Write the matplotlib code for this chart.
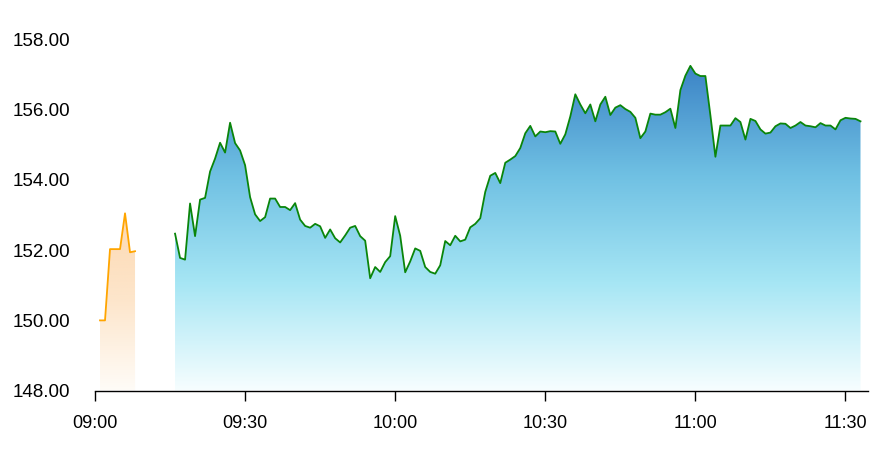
import numpy as np
import pandas as pd
import matplotlib
matplotlib.use('Agg')
import matplotlib.pyplot as plt
import matplotlib.dates as mdates
from matplotlib.colors import LinearSegmentedColormap

plt.rcParams['font.family'] = ['Liberation Sans', 'DejaVu Sans']

# pre-market prints (orange)
pre_prices = [150.00, 150.00, 152.03, 152.03, 152.03, 153.05, 151.94, 151.97]
pre_start = '2024-01-02 09:01'

# regular session prints (green), one per minute
prices = [
    152.47, 151.78, 151.73, 153.33, 152.40, 153.44, 153.49, 154.24, 154.61, 155.06,
    154.78, 155.63, 155.05, 154.84, 154.42, 153.51, 153.02, 152.83, 152.94, 153.47,
    153.47, 153.23, 153.23, 153.14, 153.34, 152.87, 152.69, 152.64, 152.75, 152.68,
    152.35, 152.59, 152.34, 152.22, 152.42, 152.64, 152.69, 152.40, 152.27, 151.20,
    151.52, 151.38, 151.66, 151.83, 152.97, 152.41, 151.37, 151.68, 152.05, 151.98,
    151.52, 151.38, 151.33, 151.57, 152.26, 152.14, 152.41, 152.25, 152.30, 152.65,
    152.75, 152.91, 153.66, 154.12, 154.20, 153.91, 154.49, 154.58, 154.68, 154.91,
    155.33, 155.54, 155.24, 155.38, 155.36, 155.39, 155.38, 155.03, 155.30, 155.81,
    156.44, 156.15, 155.90, 156.15, 155.67, 156.15, 156.37, 155.85, 156.06, 156.13,
    156.02, 155.94, 155.77, 155.19, 155.38, 155.89, 155.86, 155.86, 155.93, 156.03,
    155.48, 156.56, 156.97, 157.25, 157.03, 156.96, 156.96, 155.84, 154.66, 155.55,
    155.55, 155.55, 155.76, 155.65, 155.15, 155.74, 155.68, 155.44, 155.32, 155.35,
    155.53, 155.61, 155.60, 155.48, 155.55, 155.65, 155.55, 155.53, 155.50, 155.62,
    155.55, 155.55, 155.44, 155.70, 155.77, 155.75, 155.74, 155.67,
]
start = '2024-01-02 09:16'

y_ticks = [148, 150, 152, 154, 156, 158]
x_ticks = ['09:00', '09:30', '10:00', '10:30', '11:00', '11:30']

pre_times = pd.date_range(pre_start, periods=len(pre_prices), freq='min')
times = pd.date_range(start, periods=len(prices), freq='min')

blue_cmap = LinearSegmentedColormap.from_list(
    'blue', ['#f7feff', '#a6e6f4', '#6fc0e3', '#3c84c6'])
orange_cmap = LinearSegmentedColormap.from_list(
    'orange', ['#fffcf8', '#fde6cc', '#fdd9b2'])


def gradient_area(ax, x, y, line_color, cmap, base=148):
    xn = mdates.date2num(x)
    y = np.asarray(y)
    poly = ax.fill_between(xn, y, base, facecolor='none', edgecolor='none')
    grad = np.linspace(1, 0, 256).reshape(-1, 1)
    im = ax.imshow(grad, cmap=cmap, aspect='auto', origin='upper',
                   extent=[xn.min(), xn.max(), base, y.max()], zorder=2)
    im.set_clip_path(poly.get_paths()[0], transform=ax.transData)
    ax.plot(xn, y, color=line_color, lw=1.3, zorder=3)


fig = plt.figure(figsize=(8.92, 4.65), dpi=100)
ax = fig.add_axes([0.1065, 0.160, 0.8666, 0.755])

gradient_area(ax, pre_times, pre_prices, '#ffa500', orange_cmap)
gradient_area(ax, times, prices, '#0a850a', blue_cmap)

day = '2024-01-02 '
ax.set_xlim(mdates.datestr2num(day + '09:00'), mdates.datestr2num(day + '11:34:30'))
ax.set_ylim(148, 158)

ax.set_xticks([mdates.datestr2num(day + t) for t in x_ticks])
ax.set_xticklabels(x_ticks)
ax.set_yticks(y_ticks)
ax.set_yticklabels([f'{v:.2f}' for v in y_ticks])

for s in ['top', 'right', 'left']:
    ax.spines[s].set_visible(False)
ax.spines['bottom'].set_linewidth(1)
ax.tick_params(axis='y', length=0, pad=18, labelsize=13.5)
ax.tick_params(axis='x', length=7.5, width=1, pad=10, labelsize=13)

plt.savefig('out.png', dpi=100)
